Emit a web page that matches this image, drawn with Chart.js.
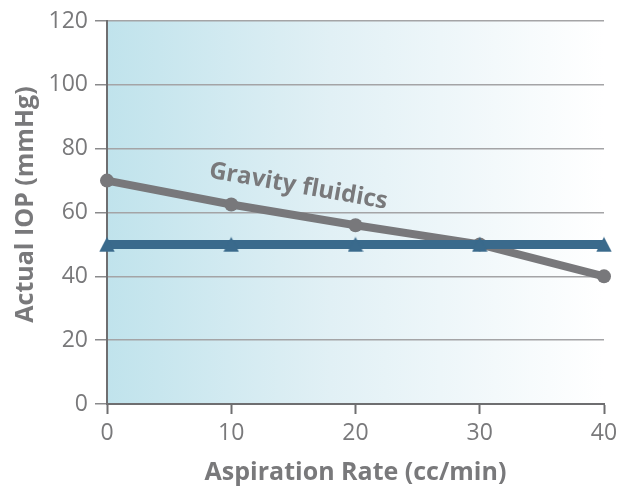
<!DOCTYPE html>
<html>
<head>
<meta charset="utf-8">
<script src="https://cdn.jsdelivr.net/npm/chart.js@4"></script>
<style>
  html, body { margin: 0; padding: 0; background: #ffffff; }
  canvas { display: block; }
</style>
</head>
<body>
<canvas id="chart" width="620" height="489"></canvas>
<script>
// Aspiration rate (cc/min) on the x axis
const aspirationRates = [0, 10, 20, 30, 40];
// IOP with gravity fluidics, falling as aspiration rises
const gravityIOP = [70, 62.5, 56, 50, 40];
// IOP with active (set-pressure) fluidics, held constant
const activeIOP = [50, 50, 50, 50, 50];
// Axis ticks
const xTicks = [0, 10, 20, 30, 40];
const yTicks = [0, 20, 40, 60, 80, 100, 120];

const labelText = 'Gravity fluidics';
const labelAt = { x: 15.4, y: 68.2 };
const yTitleText = 'Actual IOP (mmHg)';

const grayText = '#79797b';
const activeBlue = '#3a6a8c';
const fontFamily = '"Open Sans", "Noto Sans", sans-serif';

const toPoints = (xs, ys) => xs.map((x, i) => ({ x: x, y: ys[i] }));

// Triangle marker sitting on the line, apex above and base just below it
function makeTriangle(color) {
  const c = document.createElement('canvas');
  c.width = 16;
  c.height = 16;
  const t = c.getContext('2d');
  t.fillStyle = color;
  t.beginPath();
  t.moveTo(8, 0.5);
  t.lineTo(15.8, 15.5);
  t.lineTo(0.2, 15.5);
  t.closePath();
  t.fill();
  return c;
}

// Soft blue wash behind the plot, fading to white on the right
const backgroundWash = {
  id: 'backgroundWash',
  beforeDraw(chart) {
    const { ctx, chartArea: a } = chart;
    const g = ctx.createLinearGradient(a.left, 0, a.right, 0);
    g.addColorStop(0, '#c0e3ec');
    g.addColorStop(0.45, '#e1f0f5');
    g.addColorStop(1, '#ffffff');
    ctx.save();
    ctx.fillStyle = g;
    ctx.fillRect(a.left, a.top, a.right - a.left, a.bottom - a.top);
    ctx.restore();
  }
};

// Inline series label along the gravity line, plus the vertical axis title
const textLabels = {
  id: 'textLabels',
  afterDraw(chart) {
    const { ctx, scales, chartArea: a } = chart;
    const px = scales.x.getPixelForValue(labelAt.x);
    const py = scales.y.getPixelForValue(labelAt.y);
    ctx.save();
    ctx.fillStyle = grayText;
    ctx.textAlign = 'center';
    ctx.textBaseline = 'middle';

    ctx.save();
    ctx.translate(px, py);
    ctx.rotate(10 * Math.PI / 180);
    ctx.font = 'bold 24px ' + fontFamily;
    ctx.fillText(labelText, 0, 0);
    ctx.restore();

    ctx.save();
    ctx.translate(26, (a.top + a.bottom) / 2 - 8);
    ctx.rotate(-Math.PI / 2);
    ctx.font = 'bold 25px ' + fontFamily;
    ctx.fillText(yTitleText, 0, 0);
    ctx.restore();

    ctx.restore();
  }
};

new Chart(document.getElementById('chart'), {
  type: 'line',
  data: {
    datasets: [
      {
        label: 'Active fluidics',
        data: toPoints(aspirationRates, activeIOP),
        borderColor: activeBlue,
        backgroundColor: activeBlue,
        borderWidth: 9,
        pointStyle: makeTriangle(activeBlue),
        pointRadius: 8,
        pointHoverRadius: 8,
        pointBorderWidth: 0,
        clip: false,
        order: 0
      },
      {
        label: 'Gravity fluidics',
        data: toPoints(aspirationRates, gravityIOP),
        borderColor: '#78787b',
        backgroundColor: '#78787b',
        borderWidth: 8,
        pointStyle: 'circle',
        pointRadius: 7,
        pointHoverRadius: 7,
        pointBorderWidth: 0,
        clip: false,
        order: 1
      }
    ]
  },
  options: {
    responsive: false,
    animation: false,
    layout: { padding: { top: 21, right: 16, left: 0, bottom: 0 } },
    plugins: {
      legend: { display: false },
      tooltip: { enabled: false }
    },
    scales: {
      x: {
        type: 'linear',
        min: 0,
        max: 40,
        afterBuildTicks(scale) { scale.ticks = xTicks.map(v => ({ value: v })); },
        afterFit(scale) {
          scale.height = 85;
          scale.paddingLeft = 0;
          scale.paddingRight = 0;
        },
        border: { display: true, color: '#6e6e70', width: 2 },
        grid: {
          drawOnChartArea: false,
          drawTicks: true,
          tickLength: 10,
          tickColor: '#6e6e70',
          tickWidth: 2
        },
        ticks: {
          color: grayText,
          font: { family: fontFamily, size: 23 },
          padding: 6,
          maxRotation: 0
        },
        title: {
          display: true,
          text: 'Aspiration Rate (cc/min)',
          color: grayText,
          font: { family: fontFamily, size: 25, weight: 'bold' },
          padding: { top: 0, bottom: 1 }
        }
      },
      y: {
        type: 'linear',
        min: 0,
        max: 120,
        afterBuildTicks(scale) { scale.ticks = yTicks.map(v => ({ value: v })); },
        afterFit(scale) { scale.width = 107; },
        border: { display: true, color: '#6e6e70', width: 2 },
        grid: {
          color: '#a4a4a6',
          lineWidth: 1.5,
          drawTicks: true,
          tickLength: 12,
          tickColor: '#8a8a8c',
          tickWidth: 1.5
        },
        ticks: {
          color: grayText,
          font: { family: fontFamily, size: 23 },
          padding: 7
        },
        title: { display: false }
      }
    }
  },
  plugins: [backgroundWash, textLabels]
});
</script>
</body>
</html>
